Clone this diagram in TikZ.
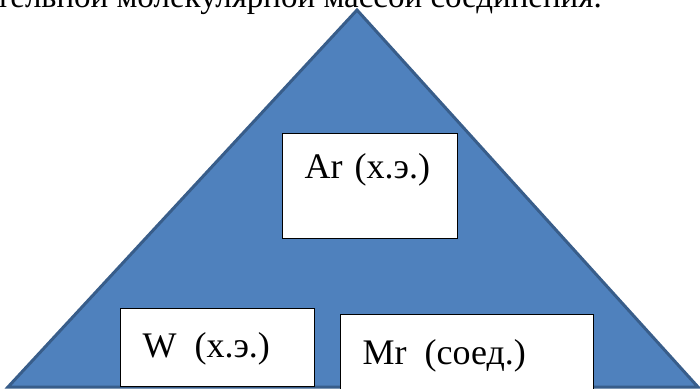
\documentclass[tikz,border=0pt]{standalone}
\usepackage{fontspec}
\setmainfont{Liberation Serif}
\usetikzlibrary{positioning}
\definecolor{trifill}{HTML}{4F81BD}
\definecolor{triline}{HTML}{385D8A}
\begin{document}
\begin{tikzpicture}[x=1pt,y=-1pt,
  every node/.style={font=\fontsize{36}{40}\selectfont},
  tri/.style={draw=triline,fill=trifill,line width=3pt,line join=miter},
  quantbox/.style={draw=black,fill=white,line width=1.2pt,anchor=north west,
    inner ysep=0pt,align=left}]
  \useasboundingbox (0,0) rectangle (700,388);
  % caption line, cut off at the top
  \node[anchor=base east,inner sep=0pt,font=\fontsize{33}{38}\selectfont] (caption) at (602,8)
    {относительной молекулярной массой соединения.};
  % triangle
  \coordinate (apex) at (357,10);
  \coordinate (bl) at (8,387);
  \coordinate (br) at (698,387);
  \draw[tri] (bl) -- (apex) -- (br) -- cycle;
  % boxes
  \node[quantbox,inner xsep=22pt,text width=131pt,text height=45pt,text depth=60pt] (ar) at (282,133) {Ar (х.э.)};
  \node[quantbox,inner xsep=22pt,text width=150pt,text height=49pt,text depth=29pt] (w) at (120,308) {W\hspace{6pt} (х.э.)};
  \node[quantbox,inner xsep=22pt,text width=209pt,text height=50pt,text depth=26pt] (mr) at (340,314) {Mr\hspace{6pt} (соед.)};
\end{tikzpicture}
\end{document}
